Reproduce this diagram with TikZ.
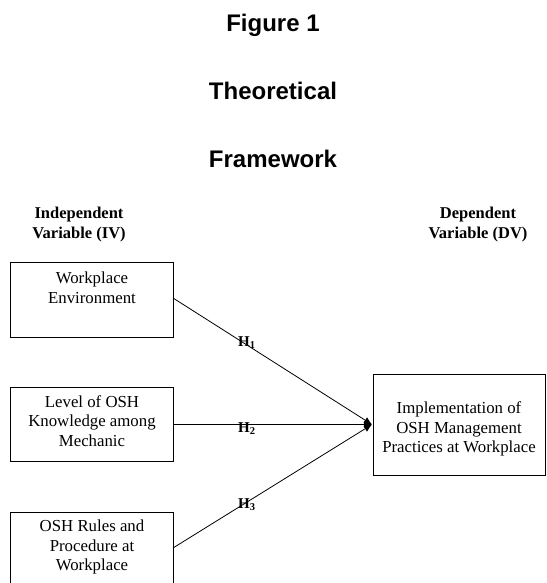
\documentclass[tikz,border=0pt]{standalone}
\usepackage{fontspec}
\setmainfont{Liberation Serif}
\newfontfamily\titlefont{Liberation Sans}
\usetikzlibrary{arrows.meta}
\tikzset{
  box/.style={draw, line width=0.9pt, inner sep=0pt},
  boxtext/.style={align=center, font=\fontsize{16.8}{19.5}\selectfont, inner sep=0pt},
  head/.style={align=center, font=\fontsize{16.5}{20}\selectfont\bfseries, inner sep=0pt},
  title/.style={font=\titlefont\fontsize{24}{28}\selectfont\bfseries, inner sep=0pt, anchor=base},
  hyp/.style={font=\fontsize{15}{17}\selectfont\bfseries, inner sep=0pt},
  link/.style={line width=0.8pt, -{Latex[length=8pt,width=7pt]}}
}
\begin{document}
\begin{tikzpicture}[x=1pt,y=-1pt]
\useasboundingbox (0,0) rectangle (546,583);
\fill[white] (0,0) rectangle (546,583);
% titles
\node[title] (t1) at (273,32) {Figure 1};
\node[title] (t2) at (273,100) {Theoretical};
\node[title] (t3) at (273,167) {Framework};
% headers
\node[head] (iv) at (79,225) {Independent\\Variable (IV)};
\node[head] (dv) at (478,225) {Dependent\\Variable (DV)};
% boxes
\node[box, minimum width=163pt, minimum height=75pt] (b1) at (91.5,299.5) {};
\node[box, minimum width=163pt, minimum height=74pt] (b2) at (91.5,424) {};
\node[box, minimum width=163pt, minimum height=74pt] (b3) at (91.5,549) {};
\node[box, minimum width=172pt, minimum height=101pt] (r) at (459,424.5) {};
\node[boxtext] (b1t) at (92,288) {Workplace\\Environment};
\node[boxtext] (b2t) at (92,421) {Level of OSH\\Knowledge among\\Mechanic};
\node[boxtext] (b3t) at (92,547) {OSH Rules and\\Procedure at\\Workplace};
\node[boxtext] (rt) at (459,429) {Implementation of\\OSH Management\\Practices at Workplace};
% connectors
\coordinate (tip) at (372,424.5);
\coordinate (s1) at (173,298);
\coordinate (s2) at (173,424.5);
\coordinate (s3) at (173,548);
\draw[link] (s1) -- (tip);
\draw[link] (s2) -- (tip);
\draw[link] (s3) -- (tip);
% hypothesis labels
\node[hyp, anchor=base west] (h1) at (238,346) {H\textsubscript{1}};
\node[hyp, anchor=base west] (h2) at (238,432) {H\textsubscript{2}};
\node[hyp, anchor=base west] (h3) at (238,508) {H\textsubscript{3}};
\end{tikzpicture}
\end{document}
